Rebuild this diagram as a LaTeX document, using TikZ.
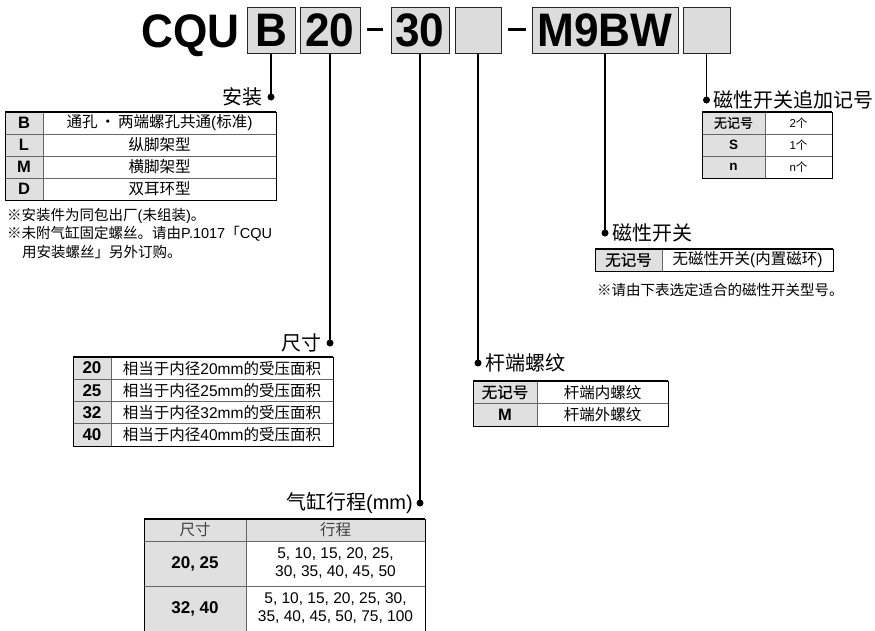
\documentclass[tikz,border=0pt]{standalone}
\usepackage{fontspec}
\setmainfont{Liberation Sans}
\newfontfamily\bigf{Liberation Sans}[FakeStretch=0.94]
\newfontfamily\cjk{Noto Sans CJK SC}
\newfontfamily\cjkm{Noto Sans CJK SC}[FakeBold=0.8]
\definecolor{boxgray}{RGB}{220,220,220}
\definecolor{cellgray}{RGB}{224,224,224}
\tikzset{
  lead/.style={draw=black, line width=1.2pt},
  dotn/.style={circle, fill=black, inner sep=0pt, minimum size=7pt},
  codebox/.style={draw=black!85, line width=1pt, fill=boxgray, inner sep=0pt, minimum height=46pt,
    font=\bigf\fontsize{47}{47}\selectfont\bfseries},
  bigtxt/.style={inner sep=0pt, font=\bigf\fontsize{47}{47}\selectfont\bfseries},
  title/.style={inner sep=0pt, font=\cjk\fontsize{20}{20}\selectfont},
  lbl/.style={inner sep=0pt, font=\bfseries\fontsize{16.5}{16.5}\selectfont},
  txt/.style={inner sep=0pt, font=\fontsize{15.5}{18}\selectfont},
  note/.style={inner sep=0pt, anchor=west, font=\fontsize{14.5}{16}\selectfont},
  outer/.style={draw=black, line width=0.9pt},
  topl/.style={draw=black, line width=1.8pt},
  inner/.style={draw=black!60, line width=0.7pt},
}
\begin{document}
\begin{tikzpicture}[x=1pt,y=-1pt]
\useasboundingbox (0,0) rectangle (875,630);

% ---- model code ----
\node[bigtxt, anchor=base east] (cqu) at (240,47) {CQU};
\node[codebox, minimum width=48pt] (bB) at (271,30) {B};
\node[codebox, minimum width=60pt] (b20) at (330,30) {20};
\draw[line width=3pt] (367,29.5) -- (383,29.5);
\node[codebox, minimum width=58pt] (b30) at (420,30) {30};
\node[codebox, minimum width=46pt] (bE1) at (478,30) {};
\draw[line width=3pt] (508,29.5) -- (526,29.5);
\node[codebox, minimum width=146pt] (bM) at (605,30) {M9BW};
\node[codebox, minimum width=47pt] (bE2) at (706.5,30) {};

% ---- dots & titles ----
\node[dotn] (dA) at (271,97) {};
\node[title, anchor=east] (tA) at (263,97) {安装};
\node[dotn] (dB) at (330,343) {};
\node[title, anchor=east] (tB) at (322,343) {尺寸};
\node[dotn] (dC) at (420,503) {};
\node[title, anchor=east] (tC) at (413,503) {气缸行程{\rmfamily\fontsize{20}{20}\selectfont(mm)}};
\node[dotn] (dD) at (478,363) {};
\node[title, anchor=west] (tD) at (485,363) {杆端螺纹};
\node[dotn] (dE) at (605,233) {};
\node[title, anchor=west] (tE) at (612,233) {磁性开关};
\node[dotn] (dF) at (706.5,100) {};
\node[title, anchor=west] (tF) at (713,100) {磁性开关追加记号};

\draw[lead] (bB.south) -- (dA.center);
\draw[lead] (b20.south) -- (dB.center);
\draw[lead] (b30.south) -- (dC.center);
\draw[lead] (bE1.south) -- (dD.center);
\draw[lead] (bM.south) -- (dE.center);
\draw[lead] (bE2.south) -- (dF.center);

% ---- table A: mounting ----
\fill[cellgray] (5,112) rectangle (43,200);
\draw[inner] (5,134) -- (276,134) (5,156) -- (276,156) (5,178) -- (276,178) (43,112) -- (43,200);
\draw[outer] (5,112) rectangle (276,200);
\draw[topl] (5,112) -- (276,112);
\node[lbl] (aL1) at (24,123) {B};
\node[lbl] (aL2) at (24,145) {L};
\node[lbl] (aL3) at (24,167) {M};
\node[lbl] (aL4) at (24,189) {D};
\node[txt] (aR1) at (159.5,123) {{\cjk 通孔\,·\,两端螺孔共通}({\cjk 标准})};
\node[txt] (aR2) at (159.5,145) {\cjk 纵脚架型};
\node[txt] (aR3) at (159.5,167) {\cjk 横脚架型};
\node[txt] (aR4) at (159.5,189) {\cjk 双耳环型};
\node[note] (n1) at (7,216) {{\cjk ※安装件为同包出厂}({\cjk 未组装}){\cjk 。}};
\node[note] (n2) at (7,234) {{\cjk ※未附气缸固定螺丝。请由}P.1017{\cjk 「}CQU};
\node[note] (n3) at (22,252) {{\cjk 用安装螺丝」另外订购。}};

% ---- table B: size ----
\fill[cellgray] (73,357) rectangle (111,446);
\draw[inner] (73,379.25) -- (333,379.25) (73,401.5) -- (333,401.5) (73,423.75) -- (333,423.75) (111,357) -- (111,446);
\draw[outer] (73,357) rectangle (333,446);
\draw[topl] (73,357) -- (333,357);
\node[lbl, font=\bfseries\fontsize{17}{17}\selectfont] (bL1) at (92,368.1) {20};
\node[lbl, font=\bfseries\fontsize{17}{17}\selectfont] (bL2) at (92,390.4) {25};
\node[lbl, font=\bfseries\fontsize{17}{17}\selectfont] (bL3) at (92,412.6) {32};
\node[lbl, font=\bfseries\fontsize{17}{17}\selectfont] (bL4) at (92,434.9) {40};
\node[txt] (bR1) at (222,368.1) {{\cjk 相当于内径}20mm{\cjk 的受压面积}};
\node[txt] (bR2) at (222,390.4) {{\cjk 相当于内径}25mm{\cjk 的受压面积}};
\node[txt] (bR3) at (222,412.6) {{\cjk 相当于内径}32mm{\cjk 的受压面积}};
\node[txt] (bR4) at (222,434.9) {{\cjk 相当于内径}40mm{\cjk 的受压面积}};

% ---- table C: stroke ----
\fill[cellgray] (144,519) rectangle (425,541);
\fill[cellgray] (144,541) rectangle (246,632);
\draw[inner] (144,541) -- (425,541) (144,586) -- (425,586) (246,519) -- (246,632);
\draw[outer] (144,519) -- (144,632) (425,519) -- (425,632);
\draw[topl] (144,519) -- (425,519);
\node[txt, text=black!75] (cH1) at (195,530) {\cjk 尺寸};
\node[txt, text=black!75] (cH2) at (335.5,530) {\cjk 行程};
\node[lbl, font=\bfseries\fontsize{17}{17}\selectfont] (cL1) at (195,563.5) {20, 25};
\node[lbl, font=\bfseries\fontsize{17}{17}\selectfont] (cL2) at (195,608.5) {32, 40};
\node[txt, align=center] (cR1) at (335.5,563.5) {5, 10, 15, 20, 25,\\30, 35, 40, 45, 50};
\node[txt, align=center] (cR2) at (335.5,608.5) {5, 10, 15, 20, 25, 30,\\35, 40, 45, 50, 75, 100};

% ---- table D: rod end thread ----
\fill[cellgray] (473,381) rectangle (537,426);
\draw[inner] (473,403.5) -- (668,403.5) (537,381) -- (537,426);
\draw[outer] (473,381) rectangle (668,426);
\draw[topl] (473,381) -- (668,381);
\node[txt, font=\cjkm\fontsize{15.5}{18}\selectfont] (dL1) at (505,392.25) {无记号};
\node[lbl] (dL2) at (505,414.75) {M};
\node[txt] (dR1) at (602.5,392.25) {\cjk 杆端内螺纹};
\node[txt] (dR2) at (602.5,414.75) {\cjk 杆端外螺纹};

% ---- table E: auto switch ----
\fill[cellgray] (595,249) rectangle (662,271);
\draw[inner] (662,249) -- (662,271);
\draw[outer] (595,249) rectangle (833,271);
\draw[topl] (595,249) -- (833,249);
\node[txt, font=\cjkm\fontsize{15.5}{18}\selectfont] (eL1) at (628.5,260) {无记号};
\node[txt] (eR1) at (747.5,260) {{\cjk 无磁性开关}({\cjk 内置磁环})};
\node[note] (n4) at (597,290) {\cjk ※请由下表选定适合的磁性开关型号。};

% ---- table F: number of switches ----
\fill[cellgray] (702,112) rectangle (765,178);
\draw[inner] (702,134) -- (832,134) (702,156) -- (832,156) (765,112) -- (765,178);
\draw[outer] (702,112) rectangle (832,178);
\draw[topl] (702,112) -- (832,112);
\node[txt, font=\cjkm\fontsize{13}{13}\selectfont] (fL1) at (733.5,123) {无记号};
\node[lbl, font=\bfseries\fontsize{13.5}{13.5}\selectfont] (fL2) at (733.5,145) {S};
\node[lbl, font=\bfseries\fontsize{13.5}{13.5}\selectfont] (fL3) at (733.5,167) {n};
\node[txt, font=\fontsize{11.5}{11.5}\selectfont] (fR1) at (798.5,123) {2{\cjk 个}};
\node[txt, font=\fontsize{11.5}{11.5}\selectfont] (fR2) at (798.5,145) {1{\cjk 个}};
\node[txt, font=\fontsize{11.5}{11.5}\selectfont] (fR3) at (798.5,167) {n{\cjk 个}};
\end{tikzpicture}
\end{document}
